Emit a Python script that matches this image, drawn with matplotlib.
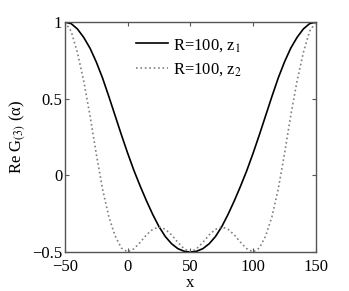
import matplotlib
matplotlib.use("Agg")
import matplotlib.pyplot as plt

plt.rcParams['font.family'] = ['Liberation Serif', 'DejaVu Serif']
plt.rcParams['mathtext.fontset'] = 'stix'

# values
x = [-50, -45, -40, -35, -30, -25, -20, -15, -10, -5, 0, 5, 10, 15, 20, 25,
     30, 35, 40, 45, 50, 55, 60, 65, 70, 75, 80, 85, 90, 95, 100, 105, 110,
     115, 120, 125, 130, 135, 140, 145, 150]

z1 = [1.0, 0.99, 0.955, 0.90, 0.83, 0.74, 0.635, 0.515, 0.39, 0.265, 0.145,
      0.032, -0.07, -0.166, -0.255, -0.335, -0.399, -0.446, -0.478, -0.495,
      -0.5, -0.495, -0.478, -0.446, -0.399, -0.335, -0.255, -0.166, -0.07,
      0.032, 0.145, 0.265, 0.39, 0.515, 0.635, 0.74, 0.83, 0.90, 0.955, 0.99,
      1.0]

z2 = [1.0, 0.94, 0.80, 0.615, 0.39, 0.14, -0.09, -0.27, -0.395, -0.474,
      -0.5, -0.479, -0.437, -0.388, -0.352, -0.336, -0.352, -0.388, -0.437,
      -0.479, -0.5, -0.479, -0.437, -0.388, -0.352, -0.336, -0.352, -0.388,
      -0.437, -0.479, -0.5, -0.474, -0.395, -0.27, -0.09, 0.14, 0.39, 0.615,
      0.80, 0.94, 1.0]

fig = plt.figure(figsize=(3.49, 2.91), dpi=100)
ax = fig.add_axes([0.186, 0.134, 0.719, 0.79])

ax.plot(x, z1, '-', color='black', lw=1.2, label='R=100, z$_1$')
ax.plot(x, z2, ':', color='#808080', lw=1.2, label='R=100, z$_2$')

ax.set_xlim(-50, 150)
ax.set_ylim(-0.5, 1)
ax.set_xticks([-50, 0, 50, 100, 150])
ax.set_yticks([-0.5, 0, 0.5, 1])
ax.set_yticklabels(['\u22120.5', '0', '0.5', '1'])
ax.set_xticklabels(['\u221250', '0', '50', '100', '150'])
ax.tick_params(direction='in', top=True, right=True, length=3, width=0.8,
               color='#555555', labelsize=12)
ax.tick_params(axis='x', pad=5)
ax.tick_params(axis='y', pad=2)
for s in ax.spines.values():
    s.set_color('#555555')
    s.set_linewidth(1.0)

ax.set_xlabel('x', fontsize=12, labelpad=0)
ax.set_ylabel('Re G$_{(3)}$ (α)', fontsize=12, labelpad=3)

ax.legend(loc='upper left', frameon=False, fontsize=12, handlelength=1.9,
          handletextpad=0.3, labelspacing=0.45, borderpad=0,
          bbox_to_anchor=(0.25, 0.972))

fig.savefig('out.png', dpi=100)
